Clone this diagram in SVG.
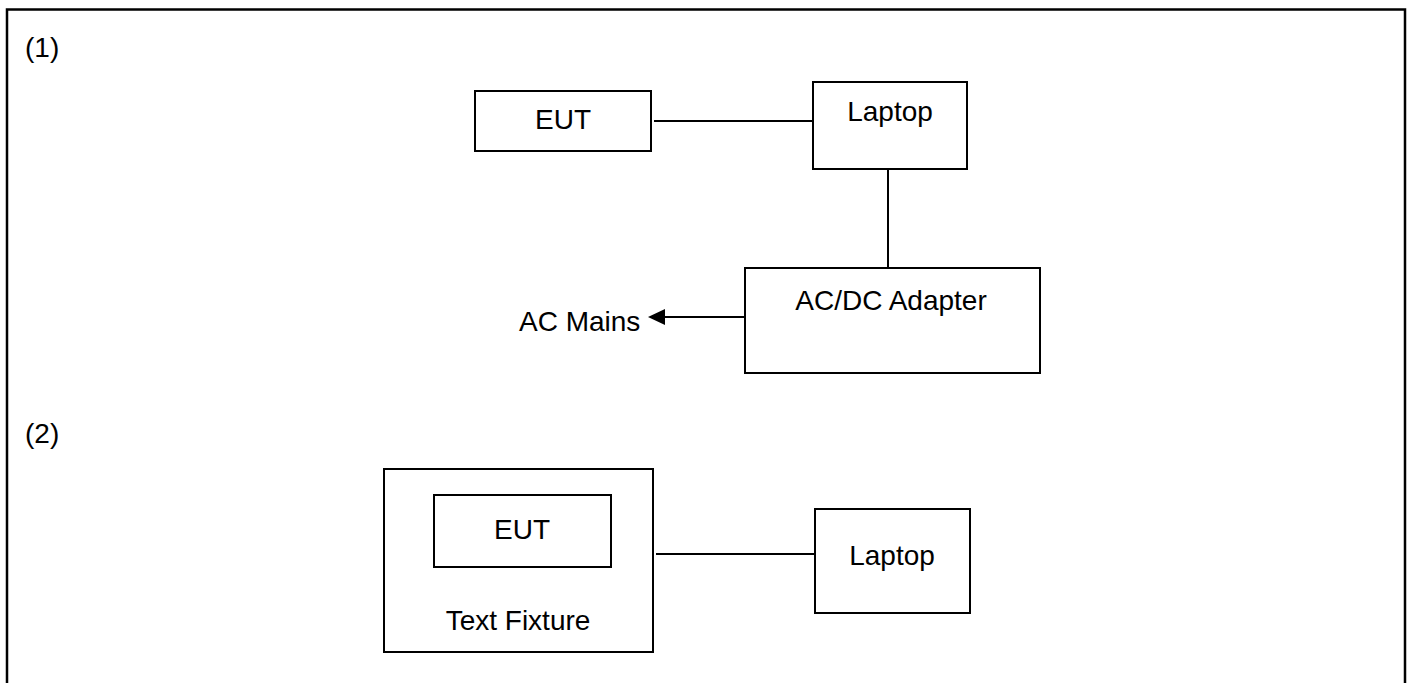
<svg xmlns="http://www.w3.org/2000/svg" width="1411" height="683" viewBox="0 0 1411 683">
<style>
.box{fill:#fff;stroke:#000;stroke-width:2}
.t{font-family:"Liberation Sans",Arial,sans-serif;font-size:28px;fill:#000}
.m{text-anchor:middle}
.c{stroke:#000;stroke-width:2;fill:none}
</style>
<rect x="0" y="0" width="1411" height="683" fill="#fff"/>
<path d="M7,700 V9.5 H1405 V700" fill="none" stroke="#000" stroke-width="2.5"/>
<text class="t" x="25" y="57">(1)</text>
<text class="t" x="25" y="443">(2)</text>
<g id="connectors">
<line class="c" x1="654" y1="121" x2="813" y2="121"/>
<line class="c" x1="888" y1="169" x2="888" y2="268"/>
<line class="c" x1="745" y1="317" x2="664" y2="317"/>
<path d="M648,317 L665,309 L665,325 Z" fill="#000"/>
<line class="c" x1="656" y1="554" x2="815" y2="554"/>
</g>
<g id="eut1">
<rect class="box" x="475" y="91" width="176" height="60"/>
<text class="t m" x="563" y="129">EUT</text>
</g>
<g id="laptop1">
<rect class="box" x="813" y="82" width="154" height="87"/>
<text class="t m" x="890" y="121">Laptop</text>
</g>
<g id="adapter">
<rect class="box" x="745" y="268" width="295" height="105"/>
<text class="t m" x="891" y="310">AC/DC Adapter</text>
</g>
<g id="acmains">
<text class="t" x="519" y="331">AC Mains</text>
</g>
<g id="fixture">
<rect class="box" x="384" y="469" width="269" height="183"/>
<text class="t m" x="518" y="630">Text Fixture</text>
</g>
<g id="eut2">
<rect class="box" x="434" y="495" width="177" height="72"/>
<text class="t m" x="522" y="539">EUT</text>
</g>
<g id="laptop2">
<rect class="box" x="815" y="509" width="155" height="104"/>
<text class="t m" x="892" y="565">Laptop</text>
</g>
</svg>
